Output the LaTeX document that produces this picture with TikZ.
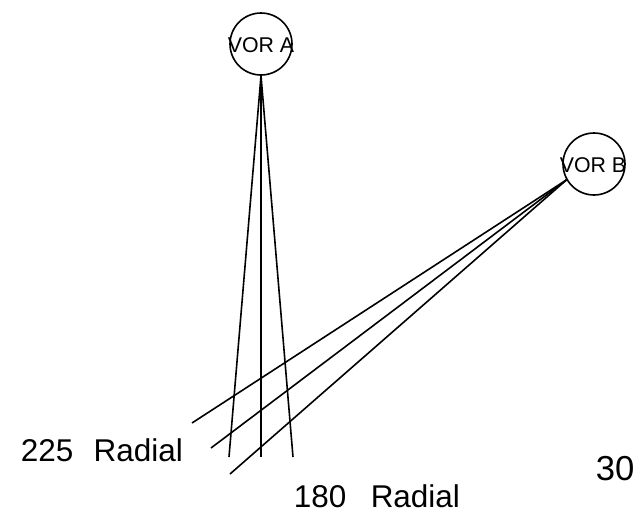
\documentclass[tikz,border=0pt]{standalone}
\usepackage{fontspec}
\setmainfont{Liberation Sans}
\begin{document}
\begin{tikzpicture}[x=0.75pt,y=-0.75pt,
  vor/.style={circle,draw,line width=1.2pt,minimum size=46.5pt,inner sep=0pt},
  vortext/.style={font=\fontsize{16}{19}\selectfont,anchor=base,inner sep=0pt},
  radial/.style={line width=1.2pt},
  lbl/.style={font=\fontsize{23.6}{28}\selectfont,anchor=base west,inner sep=0pt}]
\useasboundingbox (0,0) rectangle (644,511);
\node[vor] (A) at (261,44) {};
\node[vortext] (Atext) at (261,52) {VOR A};
\node[vor] (B) at (594,164) {};
\node[vortext] (Btext) at (593,172) {VOR B};
\coordinate (a1) at (229,457);
\coordinate (a2) at (261,457);
\coordinate (a3) at (293,457);
\coordinate (b1) at (192,423);
\coordinate (b2) at (211,448);
\coordinate (b3) at (230,474);
\draw[radial] (A.south) -- (a1);
\draw[radial] (A.south) -- (a2);
\draw[radial] (A.south) -- (a3);
\draw[radial] (B.210) -- (b1);
\draw[radial] (B.210) -- (b2);
\draw[radial] (B.210) -- (b3);
\node[lbl] (l225) at (20.5,461) {225\hspace{0.65em}Radial};
\node[lbl] (l180) at (293.5,507) {180\hspace{0.78em}Radial};
\node[lbl,font=\fontsize{26}{30}\selectfont] (l30) at (595.6,480) {30};
\end{tikzpicture}
\end{document}
